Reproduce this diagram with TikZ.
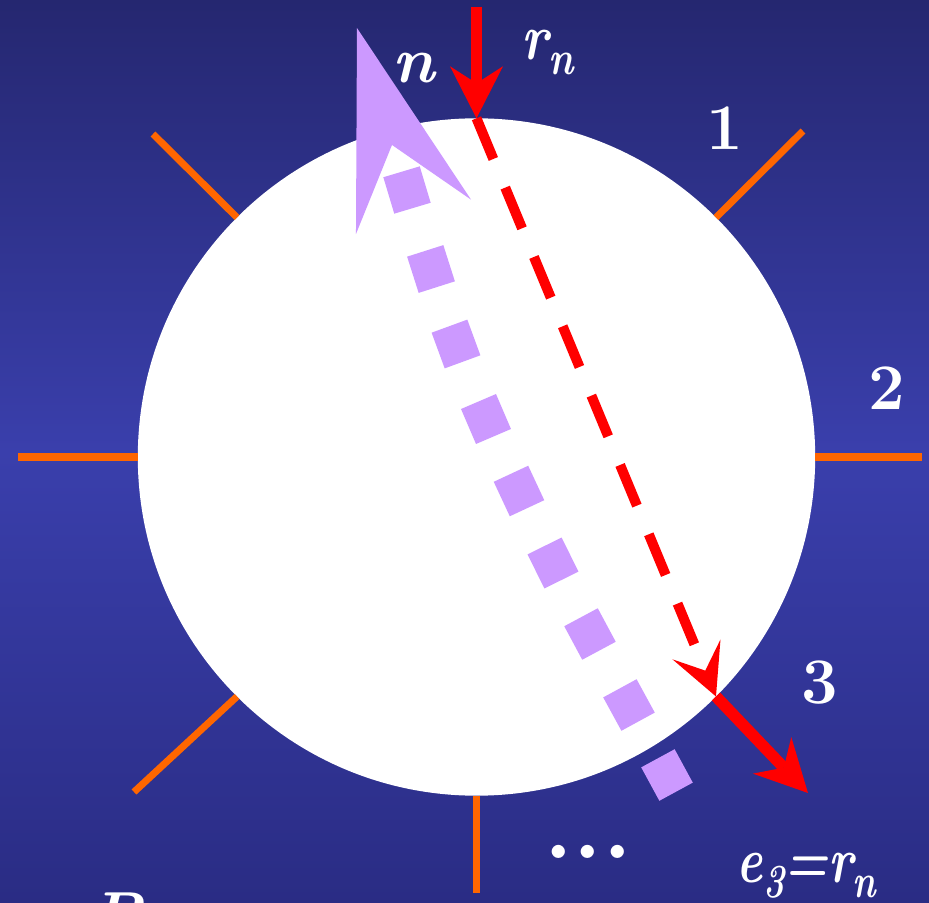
\documentclass[tikz,border=0pt]{standalone}
\usepackage{fontspec}
\usepackage{tikz}
\usetikzlibrary{arrows.meta}

\definecolor{bgtop}{RGB}{37,39,112}
\definecolor{bgmid}{RGB}{58,63,172}
\definecolor{bgbot}{RGB}{42,44,132}
\definecolor{spokeorange}{RGB}{255,102,0}
\definecolor{lilac}{RGB}{204,153,255}

\newcommand{\lowsub}[1]{\raisebox{-4.2pt}{\fontsize{13.5}{14}\selectfont #1}}

\begin{document}
\begin{tikzpicture}[x=0.01cm, y=-0.01cm,
    spoke/.style={draw=spokeorange, line width=0.7mm},
    rvec/.style={draw=red, line width=1.15mm,
      -{Stealth[length=5.2mm, width=5.3mm, inset=1.7mm, line width=0pt]}},
    rdash/.style={draw=red, line width=1mm, dash pattern=on 4.4mm off 3.1mm,
      -{Stealth[length=5.1mm, width=5.2mm, inset=2.3mm, line width=0pt]}},
    nvec/.style={draw=lilac, line width=0.1pt,
      -{Stealth[length=19.7mm, width=12mm, inset=7.5mm, line width=0pt, fill=lilac]}},
    sq/.style={rectangle, fill=lilac, minimum size=3.8mm, inner sep=0pt, outer sep=0pt},
    lbl/.style={text=white, inner sep=0pt, font=\fontsize{18.5}{20}\selectfont\bfseries\itshape},
    num/.style={text=white, inner sep=0pt, font=\fontsize{18.5}{20}\selectfont\bfseries}]

  \useasboundingbox (0,0) rectangle (929,903);
  \clip (0,0) rectangle (929,903);
  \shade[top color=bgtop, bottom color=bgbot, middle color=bgmid] (0,0) rectangle (929,903);

  % the ball
  \node[circle, fill=white, minimum size=6.77cm, inner sep=0pt, outer sep=0pt] (ball) at (476.5,457) {};

  % spokes
  \coordinate (sw) at (18,457);
  \coordinate (se) at (922,457);
  \coordinate (snw) at (153,134);
  \coordinate (sne) at (803,131);
  \coordinate (ssw) at (134,792);
  \coordinate (ss) at (476.5,893);
  \foreach \a/\p in {180/sw, 0/se, 135/snw, 45/sne, 225/ssw, 270/ss}
    \draw[spoke] (ball.\a) -- (\p);

  % normal n, dotted
  \foreach \x/\y/\r [count=\i] in {407/190/16.7, 431/269/17.7, 456/344/20.1,
      486/419/23.2, 519/491/25, 553/563/26.4, 590/634/28.2, 629/705/28.6, 667/775/28.5}
    \node[sq, rotate=\r] (sq\i) at (\x,\y) {};
  \coordinate (nbase) at (392,145);
  \coordinate (ntip) at (357,28);
  \draw[nvec] (nbase) -- (ntip);

  % incoming and outgoing r_n
  \coordinate (rtop) at (476.5,7);
  \coordinate (e3end) at (808,793);
  \draw[rvec] (rtop) -- (ball.90);
  \draw[rdash] (ball.90) -- (ball.-45);
  \draw[rvec] (ball.-45) -- (e3end);

  % labels
  \node[lbl, anchor=base] (nlab) at (414,83) {n};
  \node[lbl, anchor=base west] (rlab) at (521,60) {\scalebox{0.82}[1]{r\lowsub{n}}};
  \node[num] (one) at (725,128) {1};
  \node[num] (two) at (887,388) {2};
  \node[num] (three) at (820,683) {3};
  \node[num, font=\fontsize{26}{28}\selectfont\bfseries] (dots) at (588,852) {.\kern0.3pt.\kern0.3pt.};
  \node[lbl, anchor=base west] (elab) at (736,883) {\scalebox{0.76}[1]{e\lowsub{3}=r\lowsub{n}}};
  \node[lbl, anchor=north west] (plab) at (90,892) {P};
\end{tikzpicture}
\end{document}
